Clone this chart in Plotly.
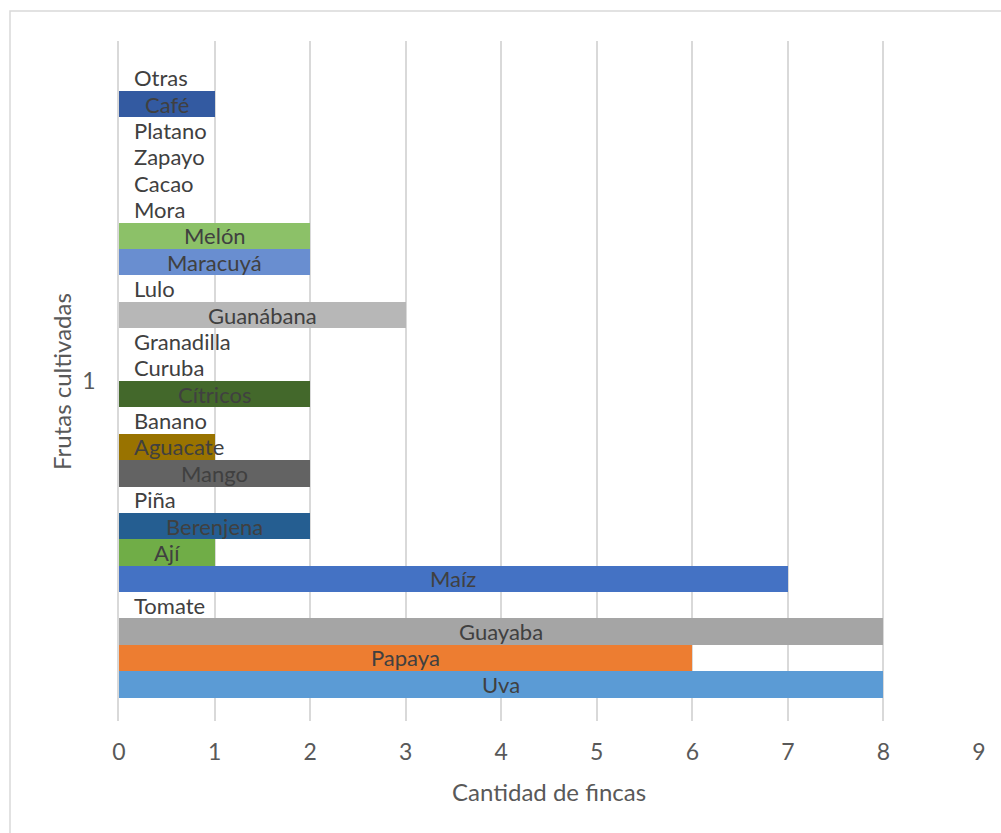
import plotly.graph_objects as go

# Crops, listed bottom to top as they appear on the vertical axis
frutas = ["Uva", "Papaya", "Guayaba", "Tomate", "Maíz", "Ají", "Berenjena", "Piña",
          "Mango", "Aguacate", "Banano", "Cítricos", "Curuba", "Granadilla", "Guanábana",
          "Lulo", "Maracuyá", "Melón", "Mora", "Cacao", "Zapayo", "Platano", "Café", "Otras"]
fincas = [8, 6, 8, 0, 7, 1, 2, 0, 2, 1, 0, 2, 0, 0, 3, 0, 2, 2, 0, 0, 0, 0, 1, 0]
colores = ["#5B9BD5", "#ED7D31", "#A5A5A5", "#FFC000", "#4472C4", "#70AD47",
           "#255E91", "#9E480E", "#636363", "#997300", "#264478", "#43682B",
           "#7CAFDD", "#F1975A", "#B7B7B7", "#FFCD33", "#698ED0", "#8CC168",
           "#327DC2", "#D26012", "#848484", "#CC9A00", "#335AA1", "#5E9E37"]
x_ticks = list(range(0, 10))
categoria = "1"

FONT = "Lato"
FS_LABEL = 22
FS_TICK = 23
FS_TITLE = 24
TXT = "#404040"
GRID = "#D9D9D9"

W, H = 1001, 833
ML, MR, MT, MB = 119, 22, 41, 112
PX_PER_UNIT = (W - ML - MR) / 9.0

fig = go.Figure()
pos = list(range(len(frutas)))

fig.add_trace(go.Bar(
    x=fincas, y=pos, orientation="h", width=1.0,
    marker=dict(color=colores, line=dict(width=0)),
    hoverinfo="text", hovertext=[f"{f}: {v}" for f, v in zip(frutas, fincas)],
    showlegend=False,
))

# Data labels: centred on the bar when the name fits, otherwise placed from the axis
annotations = []
for f, v, p in zip(frutas, fincas, pos):
    est_w = len(f) * 11
    fits = v > 0 and v * PX_PER_UNIT - 16 >= est_w
    if fits:
        annotations.append(dict(x=v / 2, y=p, xref="x", yref="y", text=f,
                                showarrow=False, xanchor="center", yanchor="middle",
                                font=dict(family=FONT, size=FS_LABEL, color=TXT)))
    else:
        annotations.append(dict(x=0, y=p, xref="x", yref="y", text=f,
                                showarrow=False, xanchor="left", yanchor="middle", xshift=13,
                                font=dict(family=FONT, size=FS_LABEL, color=TXT)))

# Axis titles
annotations.append(dict(x=0.5, y=(H - 791 - MB) / (H - MT - MB), xref="paper", yref="paper",
                        text="Cantidad de fincas", showarrow=False,
                        xanchor="center", yanchor="middle",
                        font=dict(family=FONT, size=FS_TITLE, color="#595959")))
annotations.append(dict(x=(61 - ML) / (W - ML - MR), y=0.5, xref="paper", yref="paper",
                        text="Frutas cultivadas", showarrow=False, textangle=-90,
                        xanchor="center", yanchor="middle",
                        font=dict(family=FONT, size=FS_TITLE, color="#595959")))

fig.update_layout(
    width=W, height=H,
    margin=dict(l=ML, r=MR, t=MT, b=MB, pad=0),
    paper_bgcolor="white", plot_bgcolor="white",
    bargap=0,
    annotations=annotations,
    shapes=[dict(type="rect", xref="paper", yref="paper",
                 x0=(10 - ML) / (W - ML - MR), x1=1.05,
                 y0=-0.3, y1=(H - MB - 11) / (H - MT - MB),
                 line=dict(color=GRID, width=1.5), fillcolor="rgba(0,0,0,0)", layer="below")],
    xaxis=dict(range=[0, 9], tickvals=x_ticks, ticktext=[str(t) for t in x_ticks],
               showgrid=True, gridcolor=GRID, gridwidth=1.5, zeroline=False,
               showline=False, ticks="", ticklabelstandoff=15,
               tickfont=dict(family=FONT, size=FS_TICK, color="#595959"), fixedrange=True),
    yaxis=dict(range=[-1.39, 24.39], tickvals=[11.5], ticktext=[categoria],
               showgrid=False, zeroline=False, showline=True, linecolor=GRID, linewidth=1.5,
               ticks="", ticklabelstandoff=17,
               tickfont=dict(family=FONT, size=FS_TICK, color="#595959"), fixedrange=True),
)

fig.write_html("out.html")
